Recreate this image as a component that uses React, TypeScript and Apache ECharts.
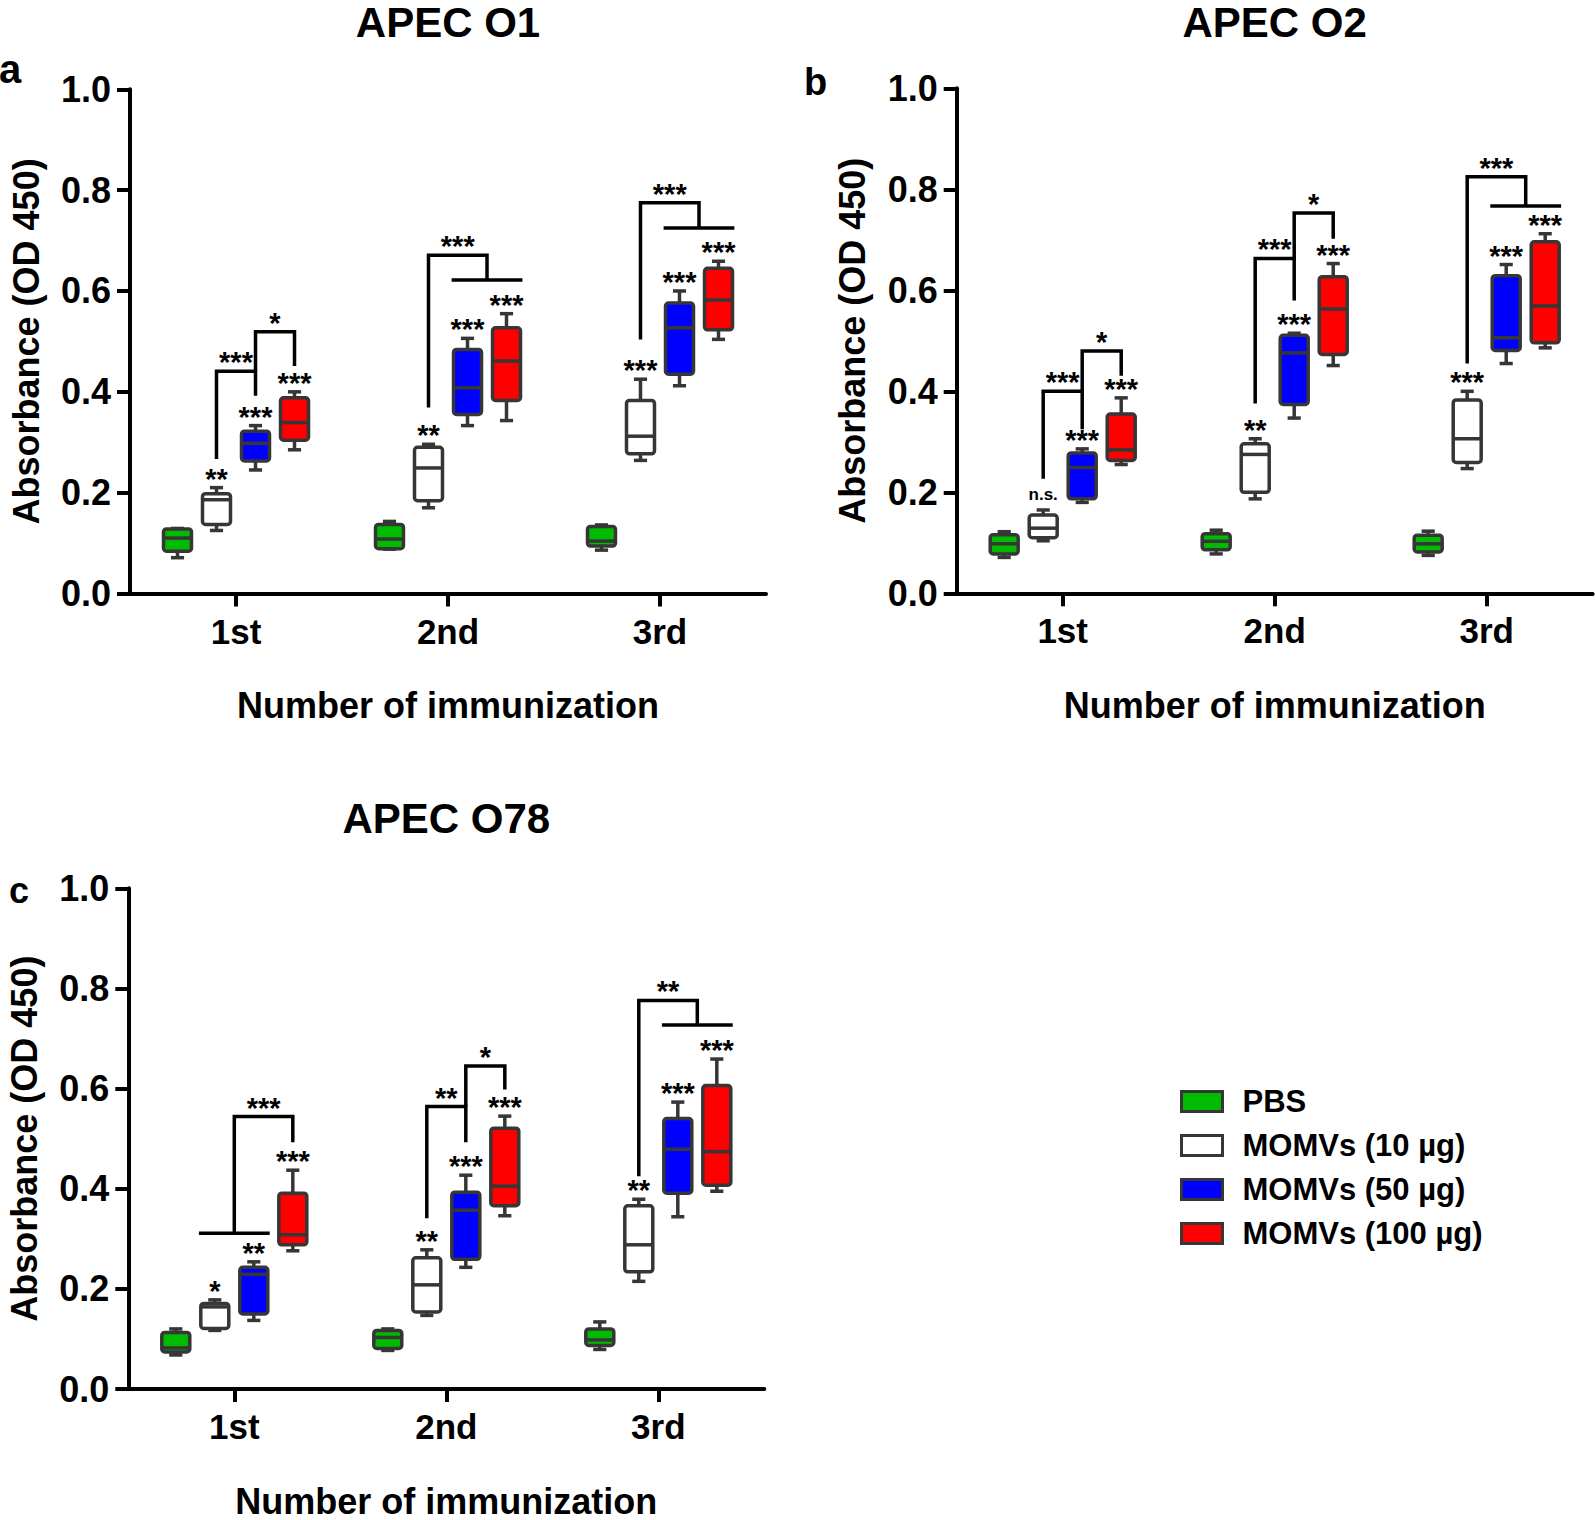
import React, { useEffect, useRef } from 'react';
import * as echarts from 'echarts';

// ---------- data ----------
const CATEGORIES = ['1st', '2nd', '3rd'];
const GROUPS = ['PBS', 'MOMVs (10 µg)', 'MOMVs (50 µg)', 'MOMVs (100 µg)'];
const TITLES = ['APEC O1', 'APEC O2', 'APEC O78'];
const LETTERS = ['a', 'b', 'c'];
const Y_MIN = 0;
const Y_MAX = 1;
const Y_STEP = 0.2;

// each entry: [min, q1, median, q3, max] for 1st, 2nd, 3rd immunization
const O1_PBS = [[0.071, 0.084, 0.110, 0.128, 0.129], [0.088, 0.089, 0.108, 0.137, 0.143], [0.086, 0.094, 0.104, 0.133, 0.136]];
const O1_10 = [[0.125, 0.137, 0.186, 0.198, 0.210], [0.170, 0.184, 0.249, 0.290, 0.296], [0.264, 0.277, 0.312, 0.383, 0.425]];
const O1_50 = [[0.245, 0.263, 0.298, 0.322, 0.333], [0.333, 0.355, 0.408, 0.484, 0.506], [0.412, 0.435, 0.527, 0.576, 0.600]];
const O1_100 = [[0.285, 0.304, 0.339, 0.388, 0.400], [0.343, 0.383, 0.461, 0.527, 0.555], [0.504, 0.523, 0.582, 0.645, 0.659]];

const O2_PBS = [[0.071, 0.078, 0.098, 0.116, 0.122], [0.078, 0.086, 0.103, 0.118, 0.125], [0.075, 0.082, 0.098, 0.115, 0.123]];
const O2_10 = [[0.104, 0.110, 0.129, 0.155, 0.165], [0.187, 0.200, 0.275, 0.296, 0.306], [0.247, 0.259, 0.306, 0.383, 0.400]];
const O2_50 = [[0.180, 0.187, 0.249, 0.278, 0.286], [0.347, 0.374, 0.476, 0.511, 0.515], [0.455, 0.481, 0.506, 0.629, 0.651]];
const O2_100 = [[0.255, 0.263, 0.284, 0.355, 0.387], [0.451, 0.473, 0.563, 0.627, 0.653], [0.486, 0.496, 0.569, 0.696, 0.712]];

const O78_PBS = [[0.068, 0.074, 0.082, 0.113, 0.120], [0.077, 0.081, 0.103, 0.117, 0.120], [0.079, 0.087, 0.098, 0.120, 0.134]];
const O78_10 = [[0.117, 0.121, 0.164, 0.171, 0.178], [0.147, 0.154, 0.208, 0.262, 0.278], [0.215, 0.234, 0.288, 0.366, 0.379]];
const O78_50 = [[0.137, 0.150, 0.229, 0.243, 0.254], [0.243, 0.259, 0.357, 0.393, 0.427], [0.344, 0.391, 0.479, 0.540, 0.573]];
const O78_100 = [[0.276, 0.288, 0.308, 0.391, 0.437], [0.346, 0.366, 0.405, 0.521, 0.545], [0.395, 0.407, 0.474, 0.606, 0.659]];

// significance marks vs PBS, per immunization
const NO_SIG = ['', '', ''];
const O1_SIG_10 = ['**', '**', '***'];
const O1_SIG_50 = ['***', '***', '***'];
const O1_SIG_100 = ['***', '***', '***'];
const O2_SIG_10 = ['n.s.', '**', '***'];
const O2_SIG_50 = ['***', '***', '***'];
const O2_SIG_100 = ['***', '***', '***'];
const O78_SIG_10 = ['*', '**', '**'];
const O78_SIG_50 = ['**', '***', '***'];
const O78_SIG_100 = ['***', '***', '***'];

// comparison brackets: groups on each side, leg bottoms and top (absorbance)
const O1_BRACKETS = [
  { cat: 0, left: [1], right: [2], leftY: 0.267, rightY: 0.392, top: 0.441, label: '***' },
  { cat: 0, left: [2], right: [3], leftY: 0.441, rightY: 0.451, top: 0.519, label: '*' },
  { cat: 1, left: [1], right: [2, 3], leftY: 0.369, rightY: 0.622, top: 0.671, label: '***' },
  { cat: 2, left: [1], right: [2, 3], leftY: 0.504, rightY: 0.725, top: 0.775, label: '***' },
];
const O2_BRACKETS = [
  { cat: 0, left: [1], right: [2], leftY: 0.227, rightY: 0.325, top: 0.400, label: '***' },
  { cat: 0, left: [2], right: [3], leftY: 0.400, rightY: 0.431, top: 0.480, label: '*' },
  { cat: 1, left: [1], right: [2], leftY: 0.376, rightY: 0.580, top: 0.663, label: '***' },
  { cat: 1, left: [2], right: [3], leftY: 0.663, rightY: 0.702, top: 0.753, label: '*' },
  { cat: 2, left: [1], right: [2, 3], leftY: 0.455, rightY: 0.767, top: 0.825, label: '***' },
];
const O78_BRACKETS = [
  { cat: 0, left: [1, 2], right: [3], leftY: 0.311, rightY: 0.493, top: 0.544, label: '***' },
  { cat: 1, left: [1], right: [2], leftY: 0.341, rightY: 0.493, top: 0.564, label: '**' },
  { cat: 1, left: [2], right: [3], leftY: 0.564, rightY: 0.598, top: 0.645, label: '*' },
  { cat: 2, left: [1], right: [2, 3], leftY: 0.425, rightY: 0.727, top: 0.776, label: '**' },
];

// ---------- styling / layout ----------
const FONT = '"Liberation Sans", Arial, Helvetica, sans-serif';
const COLORS = ['#00BB00', '#FFFFFF', '#0000FF', '#FF0000'];
const EDGE = '#363636';
const OFFSETS = [-0.276, -0.092, 0.092, 0.276]; // fraction of band width
const BOX_W = 0.132;
const CAP_W = 0.062;
const SPAN_EXT = 0.075;
const BOX_LW = 3.5;
const STAR_SIZE = 29;

const GRIDS = [
  { left: 130, top: 89.3, width: 636, height: 504.2 },
  { left: 956.7, top: 88.3, width: 636, height: 505 },
  { left: 128.3, top: 888.3, width: 636, height: 505 },
];
const LETTER_POS = [
  { x: -1, y: 69, size: 40 },
  { x: 804, y: 82, size: 38 },
  { x: 9, y: 890.5, size: 36 },
];
const TITLE_Y = [22, 22, 818];

const PANELS = [
  { groups: [O1_PBS, O1_10, O1_50, O1_100], sig: [NO_SIG, O1_SIG_10, O1_SIG_50, O1_SIG_100], brackets: O1_BRACKETS },
  { groups: [O2_PBS, O2_10, O2_50, O2_100], sig: [NO_SIG, O2_SIG_10, O2_SIG_50, O2_SIG_100], brackets: O2_BRACKETS },
  { groups: [O78_PBS, O78_10, O78_50, O78_100], sig: [NO_SIG, O78_SIG_10, O78_SIG_50, O78_SIG_100], brackets: O78_BRACKETS },
];

const lineStyle = { stroke: EDGE, lineWidth: BOX_LW };

function boxRender(g: number, sigs: string[]) {
  return (params: any, api: any) => {
    const cat = api.value(0);
    const band = api.size([1, 0])[0];
    const cx = api.coord([cat, 0])[0] + OFFSETS[g] * band;
    const y = (i: number) => api.coord([cat, api.value(i)])[1];
    const yMin = y(1), yQ1 = y(2), yMed = y(3), yQ3 = y(4), yMax = y(5);
    const hw = (BOX_W * band) / 2;
    const cw = (CAP_W * band) / 2;
    const children: any[] = [
      { type: 'line', shape: { x1: cx, y1: yMax, x2: cx, y2: yQ3 }, style: lineStyle },
      { type: 'line', shape: { x1: cx, y1: yQ1, x2: cx, y2: yMin }, style: lineStyle },
      { type: 'line', shape: { x1: cx - cw, y1: yMax, x2: cx + cw, y2: yMax }, style: lineStyle },
      { type: 'line', shape: { x1: cx - cw, y1: yMin, x2: cx + cw, y2: yMin }, style: lineStyle },
      {
        type: 'rect',
        shape: { x: cx - hw, y: yQ3, width: 2 * hw, height: yQ1 - yQ3, r: 3 },
        style: { fill: COLORS[g], stroke: EDGE, lineWidth: BOX_LW },
      },
      { type: 'line', shape: { x1: cx - hw, y1: yMed, x2: cx + hw, y2: yMed }, style: lineStyle },
    ];
    const label = sigs[params.dataIndex];
    if (label) {
      const small = label === 'n.s.';
      children.push({
        type: 'text',
        x: cx,
        y: yMax - (small ? 15 : 9),
        style: {
          text: label,
          fontSize: small ? 17 : STAR_SIZE,
          fontWeight: 'bold',
          fontFamily: FONT,
          fill: '#000',
          textAlign: 'center',
          textVerticalAlign: 'middle',
        },
      });
    }
    return { type: 'group', children };
  };
}

function bracketRender(brackets: any[]) {
  return (params: any, api: any) => {
    const b = brackets[params.dataIndex];
    const cat = api.value(0);
    const band = api.size([1, 0])[0];
    const c0 = api.coord([cat, 0])[0];
    const gx = (g: number) => c0 + OFFSETS[g] * band;
    const yTop = api.coord([cat, api.value(1)])[1];
    const yL = api.coord([cat, api.value(2)])[1];
    const yR = api.coord([cat, api.value(3)])[1];
    const st = { stroke: '#000', lineWidth: 3.5, fill: null };
    const children: any[] = [];
    const side = (gs: number[], yv: number) => {
      if (gs.length === 1) return gx(gs[0]);
      const x1 = gx(gs[0]) - SPAN_EXT * band;
      const x2 = gx(gs[gs.length - 1]) + SPAN_EXT * band;
      children.push({ type: 'line', shape: { x1, y1: yv, x2, y2: yv }, style: st });
      return (x1 + x2) / 2;
    };
    const xl = side(b.left, yL);
    const xr = side(b.right, yR);
    children.push({
      type: 'polyline',
      shape: { points: [[xl, yL], [xl, yTop], [xr, yTop], [xr, yR]] },
      style: st,
    });
    children.push({
      type: 'text',
      x: (xl + xr) / 2,
      y: yTop - 9,
      style: {
        text: b.label,
        fontSize: STAR_SIZE,
        fontWeight: 'bold',
        fontFamily: FONT,
        fill: '#000',
        textAlign: 'center',
        textVerticalAlign: 'middle',
      },
    });
    return { type: 'group', children };
  };
}

function buildOption() {
  const axisText = { color: '#000', fontWeight: 'bold', fontFamily: FONT };
  const grid = GRIDS.map((g) => ({ ...g, containLabel: false }));
  const xAxis = GRIDS.map((_, i) => ({
    gridIndex: i,
    type: 'category',
    data: CATEGORIES,
    boundaryGap: true,
    axisLine: { show: true, lineStyle: { color: '#000', width: 4 } },
    axisTick: { show: true, alignWithLabel: true, length: 13, lineStyle: { color: '#000', width: 4 } },
    axisLabel: { ...axisText, fontSize: 35, margin: 20 },
    splitLine: { show: false },
    name: 'Number of immunization',
    nameLocation: 'middle',
    nameGap: 94,
    nameTextStyle: { ...axisText, fontSize: 36 },
  }));
  const yAxis = GRIDS.map((_, i) => ({
    gridIndex: i,
    type: 'value',
    min: Y_MIN,
    max: Y_MAX,
    interval: Y_STEP,
    axisLine: { show: true, lineStyle: { color: '#000', width: 4 } },
    axisTick: { show: true, length: 13, lineStyle: { color: '#000', width: 4 } },
    axisLabel: { ...axisText, fontSize: 36, margin: 19, formatter: (v: number) => v.toFixed(1) },
    splitLine: { show: false },
    name: 'Absorbance (OD 450)',
    nameLocation: 'middle',
    nameRotate: 90,
    nameGap: 86,
    nameTextStyle: { ...axisText, fontSize: 36 },
  }));

  const series: any[] = [];
  PANELS.forEach((p, pi) => {
    p.groups.forEach((vals, g) => {
      series.push({
        type: 'custom',
        name: GROUPS[g],
        xAxisIndex: pi,
        yAxisIndex: pi,
        itemStyle: { color: COLORS[g], borderColor: EDGE, borderWidth: 3 },
        encode: { x: 0, y: [1, 2, 3, 4, 5] },
        data: vals.map((v, ci) => [ci, ...v]),
        renderItem: boxRender(g, p.sig[g]),
        z: 2,
      });
    });
    series.push({
      type: 'custom',
      name: 'brackets-' + pi,
      xAxisIndex: pi,
      yAxisIndex: pi,
      encode: { x: 0, y: [1, 2, 3] },
      data: p.brackets.map((b) => [b.cat, b.top, b.leftY, b.rightY]),
      renderItem: bracketRender(p.brackets),
      z: 3,
    });
  });

  const graphic: any[] = [];
  GRIDS.forEach((g, i) => {
    graphic.push({
      type: 'text',
      x: g.left + g.width / 2,
      y: TITLE_Y[i],
      style: {
        text: TITLES[i],
        fontSize: 42,
        fontWeight: 'bold',
        fontFamily: FONT,
        fill: '#000',
        textAlign: 'center',
        textVerticalAlign: 'middle',
      },
    });
    graphic.push({
      type: 'text',
      x: LETTER_POS[i].x,
      y: LETTER_POS[i].y,
      style: {
        text: LETTERS[i],
        fontSize: LETTER_POS[i].size,
        fontWeight: 'bold',
        fontFamily: FONT,
        fill: '#000',
        textAlign: 'left',
        textVerticalAlign: 'middle',
      },
    });
  });

  return {
    animation: false,
    backgroundColor: '#fff',
    grid,
    xAxis,
    yAxis,
    series,
    graphic,
    legend: {
      orient: 'vertical',
      left: 1180,
      top: 1086,
      padding: 0,
      itemWidth: 41,
      itemHeight: 20,
      itemGap: 13,
      icon: 'rect',
      selectedMode: false,
      textStyle: {
        fontSize: 31,
        fontWeight: 'bold',
        fontFamily: FONT,
        color: '#000',
        padding: [0, 0, 0, 15],
      },
      data: GROUPS.map((n, i) => ({
        name: n,
        itemStyle: { color: COLORS[i], borderColor: EDGE, borderWidth: 3 },
      })),
    },
  };
}

export default function App() {
  const ref = useRef<HTMLDivElement>(null);
  useEffect(() => {
    document.body.style.margin = '0';
    if (!ref.current) return;
    const chart = echarts.init(ref.current, null, { renderer: 'svg' });
    chart.setOption(buildOption() as any);
    return () => chart.dispose();
  }, []);
  return <div ref={ref} style={{ width: 1595, height: 1520 }} />;
}
